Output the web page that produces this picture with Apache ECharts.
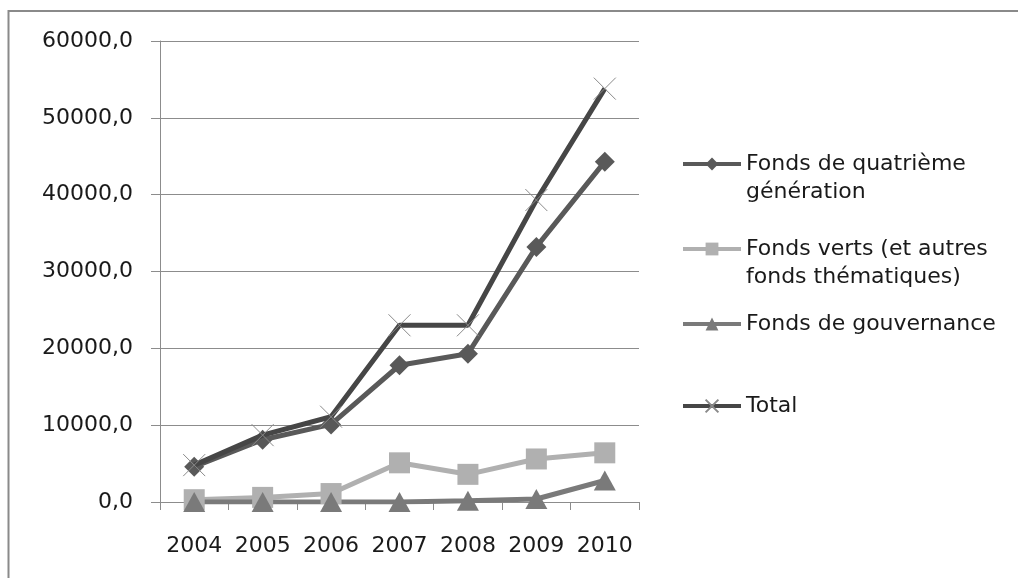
<!DOCTYPE html>
<html>
<head>
<meta charset="utf-8">
<title>Fonds</title>
<script src="https://cdn.jsdelivr.net/npm/echarts@6/dist/echarts.min.js"></script>
<style>
  html, body { margin: 0; padding: 0; background: #ffffff; }
  #chart { width: 1018px; height: 578px; }
</style>
</head>
<body>
<div id="chart"></div>
<script>
// Years on the category axis
const years = ['2004', '2005', '2006', '2007', '2008', '2009', '2010'];

// Series names and how they wrap in the legend
// (a leading blank line keeps the first line level with the legend symbol)
const seriesNames = [
  'Fonds de quatrième génération',
  'Fonds verts (et autres fonds thématiques)',
  'Fonds de gouvernance',
  'Total'
];
const legendLabels = [
  ' \nFonds de quatrième\ngénération',
  ' \nFonds verts (et autres\nfonds thématiques)',
  'Fonds de gouvernance',
  'Total'
];

// Values per year
const quatrieme = [4600, 8100, 10100, 17800, 19300, 33200, 44300];
const verts = [300, 600, 1100, 5100, 3600, 5600, 6400];
const gouvernance = [0, 0, 0, 0, 170, 390, 2800];
const total = [4800, 8700, 11100, 23000, 23000, 39300, 53800];

// Value axis ticks
const yMin = 0, yMax = 60000, yStep = 10000;

const FONT = 'DejaVu Sans';
const chart = echarts.init(document.getElementById('chart'), null, { renderer: 'canvas' });

const X_PATH = 'path://M0,0L20,20M20,0L0,20';

function legendFor(idx, top) {
  return {
    show: true,
    left: 681,
    top: top,
    orient: 'vertical',
    padding: 0,
    itemWidth: 58,
    itemHeight: 16,
    data: [seriesNames[idx]],
    formatter: (name) => legendLabels[seriesNames.indexOf(name)],
    lineStyle: { width: 4 },
    textStyle: {
      fontFamily: FONT,
      fontSize: 22,
      color: '#1a1a1a',
      lineHeight: 28
    },
    selectedMode: false
  };
}

const option = {
  animation: false,
  backgroundColor: '#ffffff',
  graphic: [{
    type: 'rect',
    shape: { x: 8.5, y: 11, width: 1030, height: 600 },
    style: { fill: 'none', stroke: '#8a8a8a', lineWidth: 2 },
    silent: true,
    z: -10
  }],
  grid: { left: 160, right: 379, top: 41, bottom: 76, containLabel: false },
  legend: [
    legendFor(0, 122),
    legendFor(1, 207),
    legendFor(2, 310),
    legendFor(3, 392)
  ],
  xAxis: {
    type: 'category',
    data: years,
    boundaryGap: true,
    axisLine: { lineStyle: { color: '#8c8c8c', width: 1 } },
    axisTick: { show: true, length: 8, alignWithLabel: false, interval: 0, lineStyle: { color: '#8c8c8c' } },
    axisLabel: { fontFamily: FONT, fontSize: 22, color: '#1a1a1a', margin: 33, interval: 0, hideOverlap: false },
    splitLine: { show: false }
  },
  yAxis: {
    type: 'value',
    min: yMin,
    max: yMax,
    interval: yStep,
    axisLine: { show: true, lineStyle: { color: '#8c8c8c', width: 1 } },
    axisTick: { show: true, length: 9, lineStyle: { color: '#8c8c8c' } },
    axisLabel: {
      fontFamily: FONT, fontSize: 22, color: '#1a1a1a', margin: 27,
      formatter: (v) => v.toFixed(1).replace('.', ',')
    },
    splitLine: { show: true, lineStyle: { color: '#8c8c8c', width: 1 } }
  },
  series: [
    {
      name: seriesNames[0],
      type: 'line',
      data: quatrieme,
      symbol: 'diamond',
      symbolSize: 20,
      lineStyle: { color: '#595959', width: 5 },
      itemStyle: { color: '#595959' },
      z: 3
    },
    {
      name: seriesNames[1],
      type: 'line',
      data: verts,
      symbol: 'rect',
      symbolSize: 21,
      lineStyle: { color: '#b0b0b0', width: 5 },
      itemStyle: { color: '#b0b0b0' },
      z: 2
    },
    {
      name: seriesNames[2],
      type: 'line',
      data: gouvernance,
      symbol: 'triangle',
      symbolSize: [22, 20],
      lineStyle: { color: '#7a7a7a', width: 5 },
      itemStyle: { color: '#7a7a7a' },
      z: 2
    },
    {
      name: seriesNames[3],
      type: 'line',
      data: total,
      symbol: X_PATH,
      symbolSize: 22,
      lineStyle: { color: '#464646', width: 5 },
      itemStyle: { color: 'rgba(0,0,0,0)', borderColor: '#8a8a8a', borderWidth: 1 },
      z: 4
    }
  ]
};

chart.setOption(option);
</script>
</body>
</html>
